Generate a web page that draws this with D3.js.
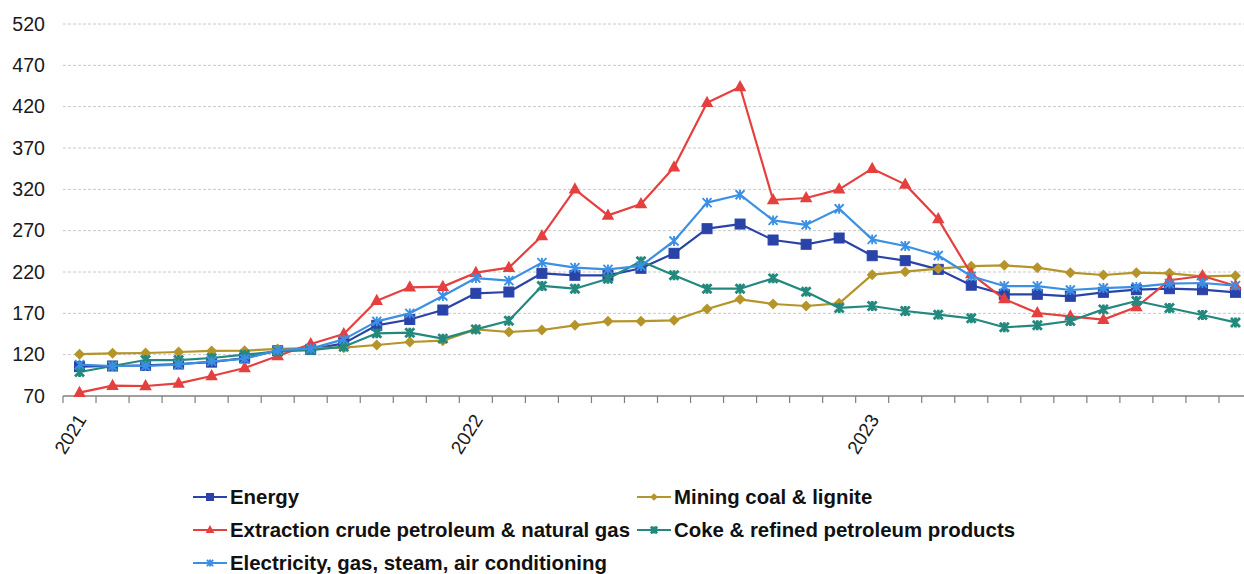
<!DOCTYPE html>
<html>
<head>
<meta charset="utf-8">
<script src="https://cdn.jsdelivr.net/npm/d3@7"></script>
<style>
  html, body { margin: 0; padding: 0; background: #ffffff; }
  svg { display: block; font-family: "Liberation Sans", Arial, sans-serif; }
</style>
</head>
<body>
<svg id="chart" width="1244" height="574"></svg>
<script>
// Monthly index values, Jan 2021 – Dec 2023
const months = [
  "2021-01","2021-02","2021-03","2021-04","2021-05","2021-06","2021-07","2021-08","2021-09","2021-10","2021-11","2021-12",
  "2022-01","2022-02","2022-03","2022-04","2022-05","2022-06","2022-07","2022-08","2022-09","2022-10","2022-11","2022-12",
  "2023-01","2023-02","2023-03","2023-04","2023-05","2023-06","2023-07","2023-08","2023-09","2023-10","2023-11","2023-12"
];
const yearLabels = ["2021", "2022", "2023"];
const yearMonths = ["2021-01", "2022-01", "2023-01"];
const yTicks = [70, 120, 170, 220, 270, 320, 370, 420, 470, 520];

const energy = [105.5,106.3,107,108.7,111,116,124.8,126.5,133.7,155.5,162.5,174,
  194.2,195.8,218.4,216,216,224.5,242.6,272.4,278,258.7,253.5,261.1,
  239.7,233.7,223.2,204,193,193,190.6,195.4,198.6,199.8,198.6,195.4];
const mining = [120.6,121.6,122,123.2,124.5,124.8,127,128,128.5,131.7,135.3,136.9,
  150.6,147.4,149.8,155.5,160.3,160.5,161.5,175.2,186.9,181.3,178.9,182.1,
  216.8,220.4,224,227,228.1,225.2,219.2,216.4,219.2,218.4,214.8,215.6];
const extraction = [74,82.5,82.1,85.3,94.2,103.9,118.4,132.9,145,185.3,201.5,202.3,
  219.2,225.2,263.5,320,288.5,302.3,346.6,424.8,443.8,307.1,309.5,320,
  345,326,284,217.6,187.3,170.4,166.4,162.4,177.6,210,215.2,203.4];
const coke = [99,106.3,113.5,113.5,116,120,124,125.6,129.7,145.8,146.6,139.4,
  150.6,161.1,203.1,199.8,211.9,232.9,216,199.8,199.8,212.3,196.2,176.5,
  178.9,172.8,168.4,164,153.1,155.5,160.7,174.8,184.9,176.5,168,159];
const electricity = [108,106.3,106.3,108,112,115,125.6,127.3,138.5,160.3,170,191,
  212.7,209.5,231.3,225.2,223.2,227.3,257.5,303.9,313.5,282.5,277,296.5,
  259.5,251.5,240,214.8,203,203,198.2,200.6,201.9,205.9,206.7,203.5];

const seriesNames = [
  "Energy",
  "Mining coal & lignite",
  "Extraction crude petroleum & natural gas",
  "Coke & refined petroleum products",
  "Electricity, gas, steam, air conditioning"
];
const seriesValues = [energy, mining, extraction, coke, electricity];
const seriesColors = ["#2a43a8", "#b5942a", "#e5403f", "#23897f", "#3b8fe4"];
const seriesMarkers = ["square", "diamond", "triangle", "xstar", "star"];

const svg = d3.select("#chart");
const W = 1244, H = 574;
const plotLeft = 63, plotRight = 1252, plotTop = 24, plotBottom = 396;

svg.append("rect").attr("width", W).attr("height", H).attr("fill", "#ffffff");

const x = d3.scaleBand().domain(months).range([plotLeft, plotRight]).padding(0);
const y = d3.scaleLinear().domain([70, 520]).range([plotBottom, plotTop]);
const cx = m => x(m) + x.bandwidth() / 2;

// dashed horizontal gridlines
svg.append("g")
  .selectAll("line")
  .data(yTicks.filter(t => t > 70))
  .join("line")
  .attr("x1", plotLeft).attr("x2", W)
  .attr("y1", d => y(d)).attr("y2", d => y(d))
  .attr("stroke", "#c8c8c8")
  .attr("stroke-width", 1)
  .attr("stroke-dasharray", "3,2");

// y axis labels
const yAxis = d3.axisLeft(y).tickValues(yTicks).tickSize(0).tickPadding(18).tickFormat(d3.format("d"));
const gy = svg.append("g").attr("transform", `translate(${plotLeft},0)`).call(yAxis);
gy.select(".domain").remove();
gy.selectAll("text")
  .attr("font-family", "'Liberation Sans', Arial, sans-serif")
  .attr("font-size", "19.6px")
  .attr("fill", "#1a1a1a");

// x axis: baseline with ticks on month boundaries
const gx = svg.append("g");
gx.append("line")
  .attr("x1", plotLeft).attr("x2", W)
  .attr("y1", plotBottom).attr("y2", plotBottom)
  .attr("stroke", "#7f7f7f").attr("stroke-width", 1.5);
gx.selectAll("line.tick")
  .data(months.concat(["end"]))
  .join("line")
  .attr("class", "tick")
  .attr("x1", d => d === "end" ? x.range()[1] : x(d))
  .attr("x2", d => d === "end" ? x.range()[1] : x(d))
  .attr("y1", plotBottom).attr("y2", plotBottom + 7)
  .attr("stroke", "#7f7f7f").attr("stroke-width", 1.2);
gx.selectAll("text")
  .data(yearMonths)
  .join("text")
  .attr("transform", d => `translate(${cx(d) + 2},${plotBottom + 20}) rotate(-58)`)
  .attr("text-anchor", "end")
  .attr("dy", "0.35em")
  .attr("font-size", "19px")
  .attr("fill", "#1a1a1a")
  .text((d, i) => yearLabels[i]);

// marker drawing
function drawMarker(g, type, color, s) {
  if (type === "square") {
    g.append("rect").attr("x", -s / 2).attr("y", -s / 2).attr("width", s).attr("height", s)
      .attr("fill", color).attr("stroke", color).attr("stroke-width", 1);
  } else if (type === "diamond") {
    g.append("path").attr("d", `M0,${-s/2}L${s/2},0L0,${s/2}L${-s/2},0Z`).attr("fill", color);
  } else if (type === "triangle") {
    const h = s * 0.9;
    g.append("path").attr("d", `M0,${-h*0.62}L${s/2},${h*0.38}L${-s/2},${h*0.38}Z`).attr("fill", color);
  } else if (type === "xstar" || type === "star") {
    const r = s / 2;
    const sw = type === "xstar" ? 2.8 : 1.9;
    g.append("path")
      .attr("d", `M${-r},${-r}L${r},${r}M${-r},${r}L${r},${-r}M0,${-r*1.1}L0,${r*1.1}`)
      .attr("stroke", color).attr("stroke-width", sw).attr("stroke-linecap", "butt").attr("fill", "none");
  }
}
const markerSize = { square: 10, diamond: 11, triangle: 12.5, xstar: 9, star: 9 };

const line = d3.line().x(d => cx(d.m)).y(d => y(d.v));

seriesValues.forEach((vals, si) => {
  const pts = vals.map((v, i) => ({ m: months[i], v }));
  const g = svg.append("g");
  g.append("path")
    .datum(pts)
    .attr("d", line)
    .attr("fill", "none")
    .attr("stroke", seriesColors[si])
    .attr("stroke-width", 2.2)
    .attr("stroke-linejoin", "round");
  pts.forEach(p => {
    const mg = g.append("g").attr("transform", `translate(${cx(p.m)},${y(p.v)})`);
    drawMarker(mg, seriesMarkers[si], seriesColors[si], markerSize[seriesMarkers[si]]);
  });
});

// legend: two columns
const legendPos = [
  { x: 193, y: 497 }, { x: 637, y: 497 },
  { x: 193, y: 530 }, { x: 637, y: 530 },
  { x: 193, y: 563 }
];
const leg = svg.append("g");
seriesNames.forEach((name, i) => {
  const p = legendPos[i];
  const g = leg.append("g").attr("transform", `translate(${p.x},${p.y})`);
  g.append("line").attr("x1", 0).attr("x2", 34).attr("y1", 0).attr("y2", 0)
    .attr("stroke", seriesColors[i]).attr("stroke-width", 2.2);
  const mg = g.append("g").attr("transform", "translate(17,0)");
  drawMarker(mg, seriesMarkers[i], seriesColors[i], markerSize[seriesMarkers[i]] * 0.7);
  g.append("text")
    .attr("x", 37).attr("y", 0).attr("dy", "0.36em")
    .attr("font-size", "20.4px").attr("font-weight", "bold")
    .attr("fill", "#111111")
    .text(name);
});
</script>
</body>
</html>
